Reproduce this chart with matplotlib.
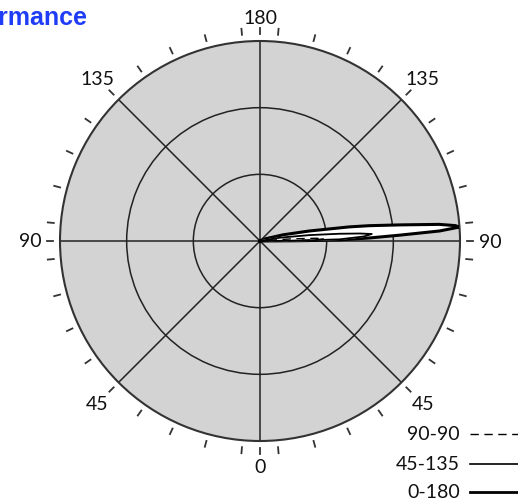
import numpy as np
import matplotlib
matplotlib.use('Agg')
import matplotlib.pyplot as plt
from matplotlib.lines import Line2D

# --- data (angles in degrees, radius normalised to outer ring) ---
series_names = ['90-90', '45-135', '0-180']

theta_0_180 = [90.0, 90.4, 90.8, 91.6, 92.4, 93.2, 94.0, 94.5, 95.3, 96.6, 98.0, 99.0, 101.5, 105.0, 112.0, 90.0]
r_0_180 = [0.0, 0.2, 0.4, 0.55, 0.7, 0.9, 1.0, 0.98, 0.9, 0.7, 0.55, 0.45, 0.25, 0.12, 0.03, 0.0]

theta_45_135 = [90.0, 90.6, 91.2, 92.5, 93.6, 94.3, 95.2, 96.8, 99.5, 90.0]
r_45_135 = [0.0, 0.2, 0.4, 0.52, 0.56, 0.5, 0.4, 0.25, 0.1, 0.0]

theta_90_90 = [90.0, 90.5, 91.2, 92.0, 92.8, 94.0, 90.0]
r_90_90 = [0.0, 0.15, 0.28, 0.32, 0.28, 0.15, 0.0]

tick_angles = [0, 45, 90, 135, 180, 225, 270, 315]
tick_labels = ['0', '45', '90', '135', '180', '135', '90', '45']
rings = [1/3, 2/3]

label_font = ['Lato', 'DejaVu Sans']

fig = plt.figure(figsize=(5.18, 5.02), dpi=100)
ax = fig.add_axes([60/518, 60/502, 400/518, 400/502], projection='polar')
ax.set_theta_zero_location('S')
ax.set_facecolor('#d3d3d3')
ax.set_ylim(0, 1)
ax.set_yticks(rings)
ax.set_yticklabels([])
ax.set_xticks(np.radians(tick_angles))
ax.set_xticklabels([])
ax.grid(True, color='#222222', linewidth=1.1)
ax.spines['polar'].set_color('#333333')
ax.spines['polar'].set_linewidth(1.5)

# outer tick marks every 10 deg (offset 5) plus the main axes
minor = list(np.arange(5, 360, 10)) + [0, 90, 180, 270]
for a in minor:
    t = np.radians(a)
    ax.plot([t, t], [1.035, 1.065], color='#333333', lw=1.3, clip_on=False)

label_r = {0: 1.13, 180: 1.12, 90: 1.15, 270: 1.15}
for a, lab in zip(tick_angles, tick_labels):
    rr = label_r.get(a, 1.15)
    ax.text(np.radians(a), rr, lab, ha='center', va='center', fontsize=14,
            family=label_font, color='#111111', clip_on=False)

# lobes
ax.fill(np.radians(theta_0_180), r_0_180, color='white', zorder=3)
ax.plot(np.radians(theta_0_180), r_0_180, color='black', lw=2.2, zorder=4)
ax.fill(np.radians(theta_45_135), r_45_135, color='white', zorder=5)
ax.plot(np.radians(theta_45_135), r_45_135, color='black', lw=1.3, zorder=6)
ax.plot(np.radians(theta_90_90), r_90_90, color='black', lw=1.0, ls=(0, (6, 4)), zorder=7)

# title (partially off canvas, as in the original)
fig.text(87/518, 1 - 18/502, 'Antenna Performance', ha='right', va='center',
         fontsize=18, fontweight='bold', color='#1f3cf7', family='Liberation Sans')

# legend built by hand at the lower right
styles = [dict(lw=1.0, ls=(0, (6, 4))), dict(lw=1.2, ls='-'), dict(lw=2.0, ls='-')]
ys = [435, 465, 493]
for name, st, y in zip(series_names, styles, ys):
    yf = 1 - y/502
    fig.text(460/518, yf, name, ha='right', va='center', fontsize=14,
             family=label_font, color='#111111')
    fig.add_artist(Line2D([470/518, 1.02], [yf, yf], color='black', **st))

fig.savefig('out.png', dpi=100)
